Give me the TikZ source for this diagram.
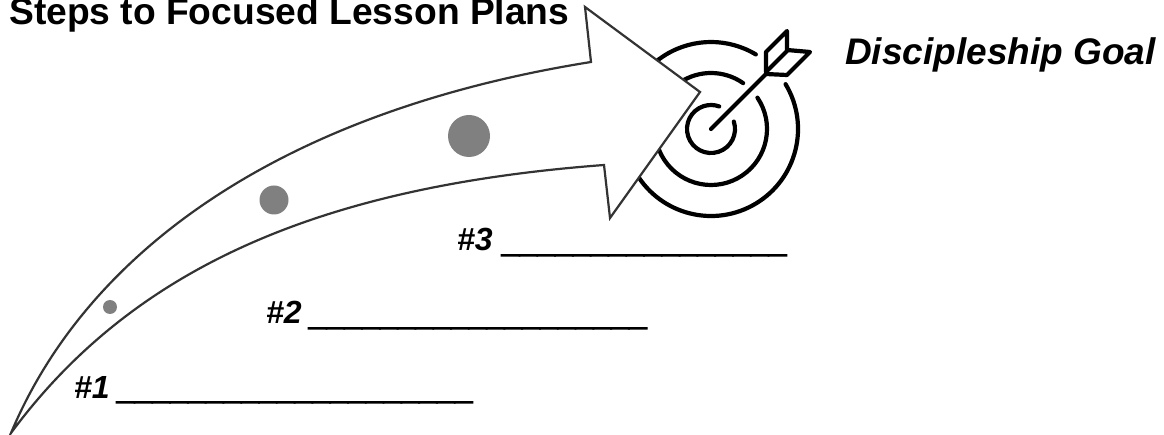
\documentclass[tikz,border=0pt]{standalone}
\usepackage{fontspec}
\setmainfont{Liberation Sans}
\newfontfamily\blankfont[FakeBold=4]{Liberation Sans Bold Italic}
\definecolor{arrowline}{HTML}{333333}
\definecolor{dotgray}{HTML}{808080}
\tikzset{
  ring/.style={draw=black,line width=4.2pt,line cap=round},
  dart/.style={draw=black,line width=4.2pt,line join=round,line cap=round},
  bigarrow/.style={draw=arrowline,line width=2.2pt,fill=white,line join=miter},
  stepdot/.style={circle,fill=dotgray,inner sep=0pt},
  title/.style={font=\fontsize{37.2}{40}\selectfont\bfseries,anchor=base west,inner sep=0pt},
  goaltext/.style={font=\fontsize{37}{40}\selectfont\bfseries\itshape,anchor=base west,inner sep=0pt},
  steptext/.style={font=\fontsize{32}{36}\selectfont\bfseries\itshape,anchor=base west,inner sep=0pt}
}
\newcommand{\blanks}[1]{\raisebox{-1pt}{\blankfont\foreach \i in {1,...,#1}{\_}}}
\begin{document}
\begin{tikzpicture}[x=1pt,y=-1pt]
\useasboundingbox (0,0) rectangle (1164,435);
\fill[white] (0,0) rectangle (1164,435);
% target
\coordinate (c) at (711,129);
\draw[ring] (c) ++(-31:87) arc[start angle=-31,end angle=301,radius=87];
\draw[ring] (c) ++(-34:56) arc[start angle=-34,end angle=305,radius=56];
\draw[ring] (c) ++(-18:24) arc[start angle=-18,end angle=290,radius=24];
% dart
\draw[dart] (c) -- (767,73);
\draw[dart] (766,72) -- (766,52) -- (787,31) -- (787,50) -- (810,52) -- (787,75) -- (766,74);
\draw[dart] (766,72) -- (787,51);
% big arrow
\draw[bigarrow] (11,433)
  .. controls (90,245) and (290,110) .. (591,62)
  -- (585,7) -- (700,92) -- (610,218) -- (604,165)
  .. controls (325,186) and (135,265) .. cycle;
% dots
\node[stepdot,minimum size=14pt] (d1) at (110,307) {};
\node[stepdot,minimum size=29pt] (d2) at (274,200) {};
\node[stepdot,minimum size=42pt] (d3) at (469,136) {};
% text
\node[title] (t) at (9,25) {Steps to Focused Lesson Plans};
\node[goaltext] (g) at (845,65) {Discipleship Goal};
\node[steptext] (s1) at (74,398) {\#1 \hspace{-2pt}\blanks{20}};
\node[steptext] (s2) at (266,324) {\#2 \hspace{-2pt}\blanks{19}};
\node[steptext] (s3) at (457,251) {\#3 \blanks{16}};
\end{tikzpicture}
\end{document}
